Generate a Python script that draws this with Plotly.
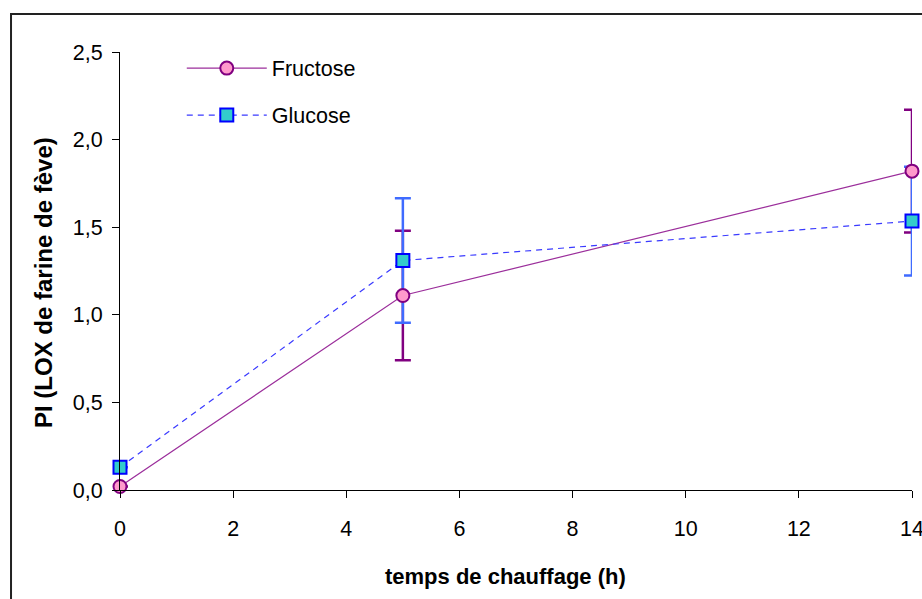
import plotly.graph_objects as go

# data
hours = [0, 5, 14]
fructose = [0.02, 1.11, 1.82]
fructose_err = [0, 0.37, 0.35]
glucose = [0.13, 1.31, 1.535]
glucose_err = [0, 0.355, 0.31]

x_ticks = [0, 2, 4, 6, 8, 10, 12, 14]
y_ticks = [0, 0.5, 1.0, 1.5, 2.0, 2.5]

x_title = "temps de chauffage (h)"
y_title = "PI (LOX de farine de fève)"

font = "Arial, Liberation Sans, sans-serif"

fig = go.Figure()

# error bars first so all markers sit on top
fig.add_trace(go.Scatter(
    x=hours, y=fructose, mode="markers",
    marker=dict(size=0, opacity=0),
    error_y=dict(type="data", array=fructose_err, color="#800080",
                 thickness=2.5, width=8),
    showlegend=False, hoverinfo="skip", cliponaxis=False,
))
fig.add_trace(go.Scatter(
    x=hours, y=glucose, mode="markers",
    marker=dict(size=0, opacity=0),
    error_y=dict(type="data", array=glucose_err, color="#3F6BFF",
                 thickness=2.5, width=8),
    showlegend=False, hoverinfo="skip", cliponaxis=False,
))

fig.add_trace(go.Scatter(
    x=hours, y=fructose, name="Fructose", mode="lines+markers",
    line=dict(color="#9B2E9B", width=1.2),
    marker=dict(symbol="circle", size=13, color="#FF99CC",
                line=dict(color="#800080", width=2)),
    legendgroup="f", cliponaxis=False,
))
fig.add_trace(go.Scatter(
    x=hours, y=glucose, name="Glucose", mode="lines+markers",
    line=dict(color="#3A3AFF", width=1.2, dash="6px,5px"),
    marker=dict(symbol="square", size=13, color="#33CCCC",
                line=dict(color="#0000FF", width=2)),
    legendgroup="g", cliponaxis=False,
))

fig.update_layout(
    width=922, height=599,
    margin=dict(l=120, r=10, t=52, b=109, autoexpand=False),
    paper_bgcolor="white", plot_bgcolor="white",
    font=dict(family=font, size=21.5, color="black"),
    separators=",.",
    legend=dict(x=0.078, y=1.01, xanchor="left", yanchor="top",
                bgcolor="rgba(0,0,0,0)", itemwidth=80,
                tracegroupgap=16, font=dict(size=21.5)),
    xaxis=dict(
        range=[0, 14], tickvals=x_ticks, showgrid=False, zeroline=False,
        showline=True, linecolor="black", linewidth=1,
        ticks="outside", ticklen=7, tickcolor="black",
        ticklabelstandoff=12, ticklabeloverflow="allow",
    ),
    yaxis=dict(
        range=[0, 2.5], tickvals=y_ticks, tickformat=".1f",
        showgrid=False, zeroline=False,
        showline=True, linecolor="black", linewidth=1,
        ticks="outside", ticklen=7, tickcolor="black",
        ticklabelstandoff=5, ticklabeloverflow="allow",
    ),
    annotations=[
        dict(text=x_title, xref="paper", yref="paper", x=0.487, y=-0.1986,
             xanchor="center", yanchor="middle", showarrow=False,
             font=dict(size=22, weight="bold")),
        dict(text=y_title, xref="paper", yref="paper", x=-0.0972, y=0.4726,
             xanchor="center", yanchor="middle", showarrow=False,
             textangle=-90, font=dict(size=24, weight="bold")),
    ],
    shapes=[dict(type="rect", xref="paper", yref="paper",
                 x0=-0.1376, y0=-0.6, x1=1.2, y1=1.0868,
                 line=dict(color="#222222", width=2))],
)

fig.write_html("out.html", config={"displayModeBar": False},
               post_script="document.body.style.margin='0';")
